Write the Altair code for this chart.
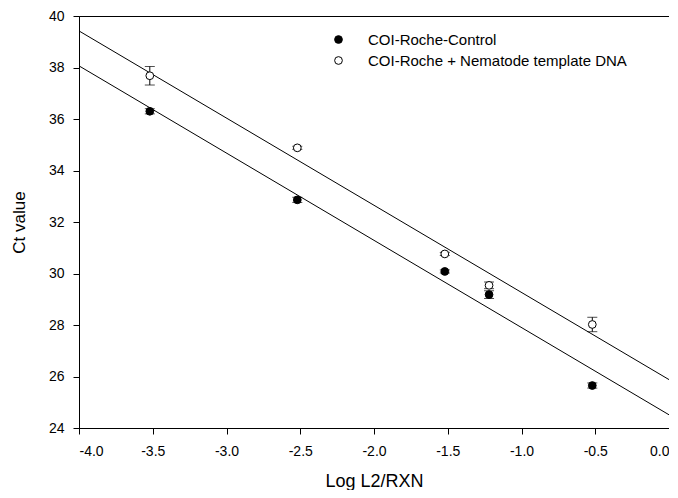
import altair as alt
import pandas as pd

# Data
log_conc = [-3.52, -2.52, -1.52, -1.22, -0.52]
ct_control = [36.30, 32.86, 30.08, 29.18, 25.65]
err_control = [0.10, 0.10, 0.06, 0.15, 0.10]
ct_nematode = [37.68, 34.88, 30.76, 29.54, 28.02]
err_nematode = [0.36, 0.06, 0.06, 0.13, 0.28]

series_names = ["COI-Roche-Control", "COI-Roche + Nematode template DNA"]

rows = []
for x, y, e in zip(log_conc, ct_control, err_control):
    rows.append({"x": x, "y": y, "lo": y - e, "hi": y + e, "series": series_names[0]})
for x, y, e in zip(log_conc, ct_nematode, err_nematode):
    rows.append({"x": x, "y": y, "lo": y - e, "hi": y + e, "series": series_names[1]})
df = pd.DataFrame(rows)

FONT = "Liberation Sans"
HYPHEN = "replace(datum.label, '\u2212', '-')"

xscale = alt.Scale(domain=[-4, 0], nice=False, zero=False)
yscale = alt.Scale(domain=[24, 40], nice=False, zero=False)

xenc = alt.X("x:Q", scale=xscale,
             axis=alt.Axis(title="Log L2/RXN", values=[-4, -3.5, -3, -2.5, -2, -1.5, -1, -0.5, 0],
                           format=".1f", labelExpr=HYPHEN, titlePadding=14, labelPadding=10))
yenc = alt.Y("y:Q", scale=yscale,
             axis=alt.Axis(title="Ct value", values=list(range(24, 41, 2)), format="d",
                           titlePadding=20, labelPadding=9))

base = alt.Chart(df)

lines = base.transform_regression(
    "x", "y", groupby=["series"], extent=[-4, 0]
).mark_line(color="black", strokeWidth=1).encode(
    x=alt.X("x:Q", scale=xscale),
    y=alt.Y("y:Q", scale=yscale),
    detail="series:N",
)

bars = base.mark_rule(color="black", strokeWidth=1).encode(
    x=alt.X("x:Q", scale=xscale),
    y=alt.Y("lo:Q", scale=yscale),
    y2="hi:Q",
)
caps_hi = base.mark_tick(color="black", thickness=1, size=10, orient="horizontal").encode(
    x=alt.X("x:Q", scale=xscale),
    y=alt.Y("hi:Q", scale=yscale),
)
caps_lo = base.mark_tick(color="black", thickness=1, size=10, orient="horizontal").encode(
    x=alt.X("x:Q", scale=xscale),
    y=alt.Y("lo:Q", scale=yscale),
)

points = base.mark_point(filled=False, stroke="black", strokeWidth=1, size=60, opacity=1,
                         shape="circle").encode(
    x=xenc,
    y=yenc,
    fill=alt.Fill("series:N",
                  scale=alt.Scale(domain=series_names, range=["black", "white"]),
                  legend=alt.Legend(title=None, orient="none", legendX=252, legendY=16,
                                    symbolType="circle", symbolSize=60,
                                    symbolStrokeColor="black", symbolStrokeWidth=1,
                                    labelFont=FONT, labelFontSize=15, labelColor="black",
                                    labelLimit=0, labelOffset=22, rowPadding=5, padding=0)),
)

chart = alt.layer(lines, bars, caps_hi, caps_lo, points).properties(
    width=590,
    height=412,
    autosize=alt.AutoSizeParams(type="none"),
    padding={"left": 71, "top": 8, "right": 0, "bottom": 62},
).configure_view(
    stroke="black", strokeWidth=1
).configure_axis(
    grid=False,
    domainColor="black",
    tickColor="black",
    tickSize=6,
    labelFont=FONT,
    labelFontSize=14,
    labelColor="black",
    titleFont=FONT,
    titleFontSize=18,
    titleFontWeight="normal",
    titleColor="black",
).configure_axisY(
    titleFontSize=17,
)

chart.save("out.html", embed_options={"renderer": "svg", "actions": False})
